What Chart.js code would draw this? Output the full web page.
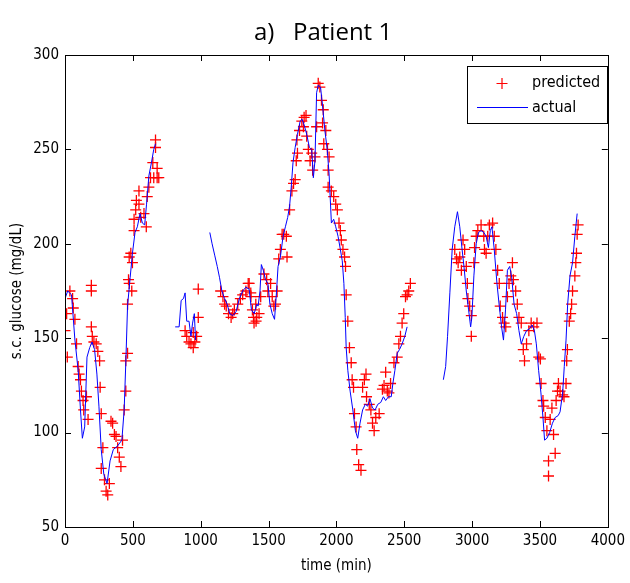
<!DOCTYPE html>
<html>
<head>
<meta charset="utf-8">
<title>Patient 1</title>
<script src="https://cdn.jsdelivr.net/npm/chart.js@4/dist/chart.umd.min.js"></script>
<style>
  body { margin: 0; background: #fff; }
  #wrap { width: 630px; height: 583px; }
</style>
</head>
<body>
<div id="wrap"><canvas id="glucose" width="630" height="583"></canvas></div>
<script>
// measured sensor glucose, null = no data (line break)
var actualTime = [0, 20, 48, 73, 97, 114, 128, 145, 162, 182, 199, 218, 235, 250, 267, 286, 310, 332, 356, 388, 419, 436, 448, 461, 480, 497, 516, 533, 553, 570, 587, 601, 618, 637, 654, 667,
    740,
    812, 841, 856, 873, 885, 897, 914, 928, 940, 953, 962,
    1015,
    1067, 1084, 1103, 1122, 1139, 1156, 1176, 1195, 1214, 1236, 1260, 1285, 1309, 1333, 1357, 1374, 1394, 1413, 1423, 1437, 1447, 1461, 1478, 1495, 1510, 1527, 1544, 1558, 1570, 1587, 1607, 1624, 1641, 1655, 1667, 1680, 1696, 1713, 1733, 1747, 1762, 1781, 1801, 1818, 1830, 1842, 1854, 1866, 1883, 1898, 1915, 1932, 1946, 1963, 1980, 1995, 2012, 2029, 2043, 2055, 2065, 2072, 2084, 2101, 2121, 2140, 2157, 2174, 2193, 2213, 2230, 2247, 2266, 2285, 2305, 2327, 2346, 2363, 2383, 2404, 2416, 2431, 2448, 2465, 2484, 2504, 2521,
    2650,
    2788, 2805, 2819, 2836, 2853, 2872, 2892, 2909, 2926, 2940, 2957, 2974, 2989, 2998, 3013, 3030, 3047, 3066, 3086, 3103, 3120, 3134, 3146, 3163, 3183, 3200, 3217, 3231, 3246, 3260, 3277, 3292, 3309, 3328, 3345, 3362, 3381, 3401, 3423, 3442, 3459, 3473, 3490, 3507, 3522, 3534, 3551, 3571, 3592, 3612, 3634, 3648, 3667, 3679, 3692, 3704, 3721, 3740, 3757, 3774];
var actualGlucose = [171, 175, 173, 149, 133, 112, 97, 103, 140, 145, 148, 144, 131, 114, 91, 78, 73, 85, 91, 93, 96, 112, 137, 167, 182, 195, 206, 209, 216, 211, 210, 221, 236, 243, 250, 253,
    null,
    156, 156, 170, 171, 174, 159, 159, 151, 158, 163, 149,
    null,
    206, 200, 194, 188, 182, 175, 171, 168, 163, 162, 164, 171, 175, 177, 176, 165, 163, 168, 167, 175, 189, 186, 181, 179, 168, 163, 160, 174, 188, 193, 204, 209, 214, 220, 230, 243, 251, 258, 265, 266, 263, 258, 251, 250, 235, 244, 280, 284, 283, 273, 260, 250, 237, 211, 213, 209, 204, 197, 191, 179, 161, 145, 133, 122, 112, 101, 97, 105, 112, 115, 114, 118, 113, 112, 115, 116, 119, 117, 119, 119, 126, 133, 142, 144, 147, 151, 156,
    null,
    128, 135, 151, 174, 197, 209, 217, 209, 197, 188, 175, 165, 156, 161, 183, 200, 206, 207, 206, 204, 198, 207, 209, 197, 179, 167, 156, 149, 165, 186, 188, 182, 168, 163, 154, 147, 151, 154, 155, 157, 154, 147, 133, 121, 108, 96, 97, 100, 105, 108, 109, 111, 121, 135, 149, 168, 183, 190, 204, 216];

// model predictions
var predTime = [0, 12, 17, 36, 56, 61, 73, 85, 97, 104, 114, 121, 133, 138, 158, 170, 194, 194, 194, 201, 213, 230, 242, 255, 259, 267, 279, 267, 291, 303, 315, 327, 339, 351, 364, 376, 388, 400, 412, 424, 436, 448, 448, 461, 461, 473, 492, 468, 485, 497, 473, 509, 509, 521, 526, 545, 545, 558, 582, 599, 606, 618, 630, 654, 679, 647, 667, 667, 679, 691,
    885, 897, 914, 928, 945, 957, 970, 945, 982, 982,
    1147, 1164, 1176, 1188, 1205, 1224, 1236, 1248, 1273, 1292, 1309, 1333, 1350, 1370, 1389, 1408,
    1357, 1369, 1381, 1393, 1413, 1430, 1406, 1442, 1466, 1486, 1495, 1515, 1527, 1539, 1551, 1563, 1575, 1587, 1600, 1612, 1631, 1636, 1655, 1672, 1684, 1696, 1704, 1713, 1709, 1728, 1745, 1762, 1776, 1757, 1781, 1793, 1806, 1818, 1825, 1842, 1854, 1866, 1878, 1890, 1903, 1898, 1907, 1922, 1934, 1946, 1939, 1939, 1963, 1980, 1995, 2007, 2019, 2029, 2036, 2048, 2060, 2067, 2072, 2084, 2096, 2109, 2116, 2126, 2133, 2145, 2150, 2164, 2181, 2193, 2206, 2218, 2222, 2242, 2254, 2266, 2278, 2290, 2315, 2339, 2351, 2363, 2375, 2387, 2399, 2424, 2448, 2460, 2472, 2484, 2496, 2509, 2521, 2533, 2545,
    2872, 2885, 2897, 2909, 2921, 2933, 2945, 2957, 2965, 2969, 2982, 2994, 2994, 3013, 3018, 3030, 3042, 3066, 3086, 3091, 3103, 3115, 3127, 3151, 3163, 3175, 3188, 3200, 3207, 3224, 3236, 3248, 3260, 3272, 3285, 3297, 3304, 3321, 3333, 3345, 3362, 3377, 3386, 3401, 3418, 3435, 3454, 3478, 3491, 3503, 3508, 3522, 3527, 3539, 3551, 3563, 3563, 3575, 3588, 3600, 3612, 3619, 3629, 3636, 3648, 3667, 3677, 3692, 3697, 3702, 3716, 3726, 3733, 3740, 3757, 3764, 3769, 3774, 3781];
var predGlucose = [154, 163, 140, 175, 171, 166, 160, 147, 135, 131, 128, 122, 117, 112, 119, 107, 178, 175, 156, 151, 148, 147, 143, 138, 124, 110, 92, 81, 75, 69, 67, 73, 106, 105, 99, 98, 92, 87, 82, 96, 112, 122, 138, 142, 168, 179, 175, 181, 195, 190, 193, 207, 213, 218, 223, 228, 221, 214, 216, 209, 225, 230, 235, 235, 235, 243, 251, 255, 240, 235,
    154, 151, 148, 147, 145, 148, 151, 153, 176, 161,
    175, 172, 168, 167, 163, 161, 163, 165, 168, 171, 173, 175, 179, 172, 161, 159,
    179, 174, 165, 158, 161, 163, 168, 172, 184, 181, 175, 179, 172, 167, 168, 175, 192, 197, 205, 205, 204, 193, 218, 228, 232, 234, 244, 248, 255, 260, 265, 267, 268, 262, 257, 250, 244, 248, 239, 246, 262, 285, 283, 276, 271, 264, 253, 260, 250, 246, 239, 230, 228, 225, 221, 218, 211, 207, 202, 197, 193, 188, 173, 159, 145, 137, 128, 124, 110, 103, 91, 83, 80, 124, 128, 131, 119, 115, 112, 105, 101, 108, 110, 123, 125, 132, 122, 121, 126, 137, 140, 147, 151, 158, 163, 172, 173, 175, 179,
    197, 192, 190, 193, 186, 202, 197, 188, 179, 171, 167, 162, 151, 190, 198, 204, 207, 210, 204, 197, 195, 204, 210, 211, 204, 197, 186, 179, 167, 161, 158, 156, 172, 179, 183, 190, 181, 175, 168, 161, 158, 144, 138, 147, 154, 158, 156, 158, 140, 139, 126, 117, 114, 108, 101, 85, 77, 107, 113, 99, 89, 117, 122, 126, 122, 120, 119, 126, 138, 144, 159, 163, 168, 175, 183, 190, 195, 205, 210];

var xTicks = [0, 500, 1000, 1500, 2000, 2500, 3000, 3500, 4000];
var yTicks = [50, 100, 150, 200, 250, 300];

var tickFont = { family: "'DejaVu Sans Condensed', 'Liberation Sans', sans-serif", size: 15 };

function pairs(xs, ys) {
    var out = [];
    for (var i = 0; i < xs.length; i++) {
        out.push({ x: xs[i], y: ys[i] });
    }
    return out;
}

// matlab style: ticks pointing inwards on all four sides, title, legend box
var matlabFrame = {
    id: 'matlabFrame',
    afterDraw: function (chart) {
        var ctx = chart.ctx;
        var a = chart.chartArea;
        var xs = chart.scales.x, ys = chart.scales.y;
        ctx.save();
        ctx.strokeStyle = '#000';
        ctx.lineWidth = 1;
        ctx.beginPath();
        xTicks.forEach(function (t) {
            var px = Math.round(xs.getPixelForValue(t)) + 0.5;
            ctx.moveTo(px, a.bottom); ctx.lineTo(px, a.bottom - 6);
            ctx.moveTo(px, a.top); ctx.lineTo(px, a.top + 6);
        });
        yTicks.forEach(function (v) {
            var py = Math.round(ys.getPixelForValue(v)) + 0.5;
            ctx.moveTo(a.left, py); ctx.lineTo(a.left + 6, py);
            ctx.moveTo(a.right, py); ctx.lineTo(a.right - 6, py);
        });
        ctx.stroke();
        ctx.strokeRect(Math.round(a.left) + 0.5, Math.round(a.top) + 0.5,
            Math.round(a.right - a.left), Math.round(a.bottom - a.top));

        // title
        ctx.fillStyle = '#000';
        ctx.font = "24px 'Open Sans', 'Liberation Sans', sans-serif";
        ctx.textAlign = 'center';
        ctx.textBaseline = 'middle';
        ctx.fillText('a)   Patient 1', 323, 33);

        // legend
        var lx = 467, ly = 66, lw = 140, lh = 57;
        ctx.fillStyle = '#fff';
        ctx.fillRect(lx, ly, lw, lh);
        ctx.strokeRect(lx + 0.5, ly + 0.5, lw, lh);
        ctx.strokeStyle = '#ff0000';
        ctx.lineWidth = 1.2;
        ctx.beginPath();
        ctx.moveTo(502, 78); ctx.lineTo(502, 89);
        ctx.moveTo(496.5, 83.5); ctx.lineTo(507.5, 83.5);
        ctx.stroke();
        ctx.strokeStyle = '#0000ff';
        ctx.lineWidth = 1;
        ctx.beginPath();
        ctx.moveTo(477, 107.5); ctx.lineTo(528, 107.5);
        ctx.stroke();
        ctx.fillStyle = '#000';
        ctx.font = "16px " + tickFont.family;
        ctx.textAlign = 'left';
        ctx.fillText('predicted', 532, 83);
        ctx.fillText('actual', 532, 108);
        ctx.restore();
    }
};

var ctx = document.getElementById('glucose').getContext('2d');
var glucoseChart = new Chart(ctx, {
    type: 'scatter',
    data: {
        datasets: [{
            label: 'actual',
            data: pairs(actualTime, actualGlucose),
            showLine: true,
            spanGaps: false,
            borderColor: '#0000ff',
            borderWidth: 1,
            pointRadius: 0,
            tension: 0,
            order: 0
        }, {
            label: 'predicted',
            data: pairs(predTime, predGlucose),
            showLine: false,
            pointStyle: 'cross',
            pointRadius: 5.5,
            borderColor: '#ff0000',
            backgroundColor: '#ff0000',
            pointBorderWidth: 1.3,
            order: 1
        }]
    },
    options: {
        responsive: false,
        animation: false,
        devicePixelRatio: 1,
        layout: {
            padding: { top: 55, right: 15, left: 0, bottom: 0 }
        },
        plugins: {
            legend: { display: false },
            tooltip: { enabled: false }
        },
        scales: {
            x: {
                type: 'linear',
                min: 0,
                max: 4000,
                afterFit: function (scale) { scale.height = 56; },
                afterBuildTicks: function (scale) {
                    scale.ticks = xTicks.map(function (v) { return { value: v }; });
                },
                grid: { display: false, drawTicks: false },
                border: { display: false },
                ticks: {
                    color: '#000', font: tickFont, padding: 5, maxRotation: 0,
                    callback: function (v) { return String(v); }
                },
                title: { display: true, text: 'time (min)', color: '#000', font: tickFont, padding: 8 }
            },
            y: {
                type: 'linear',
                min: 50,
                max: 300,
                afterFit: function (scale) { scale.width = 65; },
                afterBuildTicks: function (scale) {
                    scale.ticks = yTicks.map(function (v) { return { value: v }; });
                },
                grid: { display: false, drawTicks: false },
                border: { display: false },
                ticks: {
                    color: '#000', font: tickFont, padding: 6,
                    callback: function (v) { return String(v); }
                },
                title: { display: true, text: 's.c. glucose (mg/dL)', color: '#000', font: tickFont, padding: 8 }
            }
        }
    },
    plugins: [matlabFrame]
});
</script>
</body>
</html>
